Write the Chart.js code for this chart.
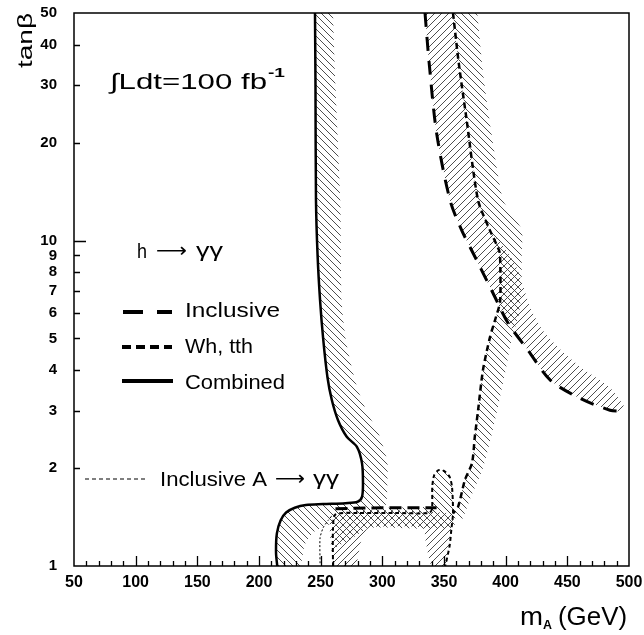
<!DOCTYPE html>
<html>
<head>
<meta charset="utf-8">
<script src="https://cdn.jsdelivr.net/npm/chart.js@4.4.0/dist/chart.umd.min.js"></script>
<style>
  body { margin: 0; background: #fff; }
</style>
</head>
<body>
<canvas id="myChart" width="644" height="635"></canvas>
<script>
// axis ticks
const xTicks = [50, 100, 150, 200, 250, 300, 350, 400, 450, 500];
const yTicks = [1, 2, 3, 4, 5, 6, 7, 8, 9, 10, 20, 30, 40, 50];

// Combined contour (solid) and outer edge of its hatched band
const combMA = [245.4, 245.8, 246.2, 247.5, 249.5, 252, 255.5, 259, 264, 271, 279.5, 283.5, 284.3, 283.5, 280, 270, 252, 238, 229, 222, 217.5, 214.5, 213.8, 214.8];
const combTB = [50, 30, 13.3, 9, 6.56, 5, 3.8, 3.24, 2.81, 2.5, 2.32, 2.07, 1.8, 1.63, 1.575, 1.56, 1.55, 1.54, 1.51, 1.46, 1.38, 1.26, 1.1, 1.0];
const combOutMA = [233, 237, 244, 256, 280, 296, 303, 304, 304, 297, 287, 279, 271, 267, 266, 262, 260];
const combOutTB = [1.0, 1.16, 1.27, 1.34, 1.37, 1.43, 1.55, 1.75, 2.1, 2.55, 3.0, 3.6, 4.8, 6.5, 13, 30, 50];

// Inclusive contour (long dashes)
const incMA = [334.6, 338, 344, 354.9, 364.3, 376.5, 389.7, 402, 418, 436, 460, 484.6, 492.7];
const incTB = [50, 35, 21.4, 13.3, 10.77, 8.7, 6.9, 5.57, 4.61, 3.73, 3.28, 3.01, 2.99];
const incOutMA = [497, 484, 462, 445, 430, 420, 414, 408, 398, 387, 377.6, 368, 362, 357.3];
const incOutTB = [3.05, 3.55, 4.05, 4.6, 5.3, 6.2, 7.3, 8.4, 9.6, 10.8, 13.3, 24, 35, 50];
const incLowMA = [262, 300, 344];
const incLowTB = [1.5, 1.51, 1.51];

// Wh, tth contour (short dashes)
const whMA = [357.3, 362, 368, 377.6, 387, 394.6, 395.5, 395.5, 392, 387.3, 381.6, 377.6, 375, 372.7, 367, 361.4, 357.3];
const whTB = [50, 35, 24, 13.3, 10.8, 9.34, 8.9, 6.5, 5.8, 5.05, 4.0, 3.0, 2.5, 2.07, 1.84, 1.52, 1.45];
const whOutMA = [364, 371, 381.6, 389, 395, 400, 405, 411, 413, 413, 413, 398, 388, 382, 377];
const whOutTB = [1.38, 1.6, 2.0, 2.56, 3.24, 4.0, 5.0, 6.0, 7.5, 9, 10.8, 13.3, 22, 32, 50];
const whLowMA = [260, 260, 262, 280, 310, 338, 340.3, 340.5, 342, 345.5, 350, 354.5, 356.5, 357.3, 356, 354.5, 351];
const whLowTB = [1.0, 1.3, 1.44, 1.455, 1.455, 1.455, 1.5, 1.75, 1.9, 1.97, 1.96, 1.88, 1.75, 1.45, 1.3, 1.15, 1.0];

// Inclusive A -> gamma gamma (thin dotted)
const aMA = [249.5, 249.5, 252, 256, 260];
const aTB = [1.02, 1.22, 1.31, 1.38, 1.44];

// hatched patches near the bottom
const uMA = [260, 260, 357.3, 355.5, 351.5, 340, 335, 333, 289, 283, 279];
const uTB = [1.0, 1.44, 1.45, 1.3, 1.0, 1.0, 1.2, 1.31, 1.31, 1.2, 1.0];
const bumpMA = [340.3, 340.5, 342, 345.5, 350, 354.5, 356.5, 357.3];
const bumpTB = [1.46, 1.75, 1.9, 1.97, 1.96, 1.88, 1.75, 1.45];
const lowMA = [262, 300, 357.3, 357.3, 290, 276, 262];
const lowTB = [1.5, 1.51, 1.5, 1.31, 1.31, 1.22, 1.14];

function pts(ma, tb) {
    return ma.map((m, i) => ({ x: m, y: tb[i] }));
}

const canvas = document.getElementById('myChart');
const mainCtx = canvas.getContext('2d');

function hatch(dir) {
    const n = 7;
    const c = document.createElement('canvas');
    c.width = n; c.height = n;
    const g = c.getContext('2d');
    g.strokeStyle = '#3a3a3a';
    g.lineWidth = 0.9;
    g.beginPath();
    if (dir > 0) {
        g.moveTo(0, n); g.lineTo(n, 0);
        g.moveTo(-1, 1); g.lineTo(1, -1);
        g.moveTo(n - 1, n + 1); g.lineTo(n + 1, n - 1);
    } else {
        g.moveTo(0, 0); g.lineTo(n, n);
        g.moveTo(-1, n - 1); g.lineTo(1, n + 1);
        g.moveTo(n - 1, -1); g.lineTo(n + 1, 1);
    }
    g.stroke();
    return mainCtx.createPattern(c, 'repeat');
}
const fwd = hatch(1);   // "/"
const back = hatch(-1); // "\"

function lineDs(ma, tb, dash, width, tension) {
    return {
        data: pts(ma, tb), showLine: true, borderColor: '#000', borderWidth: width,
        borderDash: dash, pointRadius: 0, fill: false, tension: tension
    };
}
function bandDs(ma, tb, pattern) {
    return {
        data: pts(ma, tb), showLine: true, borderWidth: 0, borderColor: 'rgba(0,0,0,0)',
        backgroundColor: pattern, pointRadius: 0, fill: 'shape', tension: 0.2
    };
}

const datasets = [
    lineDs(combMA, combTB, [], 2.5, 0.3),
    lineDs(incMA, incTB, [14, 10], 3, 0.3),
    lineDs(incLowMA, incLowTB, [12, 6], 3, 0),
    lineDs(whMA, whTB, [6, 4], 2.5, 0.25),
    lineDs(whLowMA, whLowTB, [4, 3], 2, 0.25),
    lineDs(aMA, aTB, [2, 2], 1, 0.2),
    bandDs(combMA.concat(combOutMA), combTB.concat(combOutTB), back),
    bandDs(whMA.concat(whOutMA), whTB.concat(whOutTB), back),
    bandDs(incMA.concat(incOutMA), incTB.concat(incOutTB), fwd),
    bandDs(uMA, uTB, fwd),
    bandDs(bumpMA, bumpTB, back),
    bandDs(lowMA, lowTB, back)
];

function fitText(ctx, str, x, y, w, font) {
    ctx.font = font;
    const m = ctx.measureText(str).width;
    ctx.save();
    ctx.translate(x, y);
    ctx.scale(w / m, 1);
    ctx.fillText(str, 0, 0);
    ctx.restore();
}

// frame, inward ticks and all the text inside the plot
const decorations = {
    id: 'decorations',
    afterDraw(chart) {
        const { ctx, chartArea: { left, top, right, bottom }, scales: { x, y } } = chart;
        ctx.save();
        ctx.strokeStyle = '#000';
        ctx.lineWidth = 1.5;
        ctx.strokeRect(left, top, right - left, bottom - top);

        ctx.lineWidth = 1.3;
        ctx.beginPath();
        for (let v = 60; v < 500; v += 10) {
            const px = Math.round(x.getPixelForValue(v)) + 0.5;
            const len = v % 50 === 0 ? 10 : 5;
            ctx.moveTo(px, bottom);
            ctx.lineTo(px, bottom - len);
        }
        yTicks.forEach(v => {
            if (v === 1 || v === 50) return;
            const py = Math.round(y.getPixelForValue(v)) + 0.5;
            ctx.moveTo(left, py);
            ctx.lineTo(left + (v === 10 ? 12 : 6), py);
        });
        ctx.stroke();

        ctx.fillStyle = '#000';
        ctx.textBaseline = 'alphabetic';
        ctx.textAlign = 'left';

        // luminosity
        fitText(ctx, '\u222BLdt=100 fb', 110, 89, 157, '22px "Liberation Sans"');
        fitText(ctx, '-1', 268, 77, 17, 'bold 13px "Liberation Sans"');

        // legend
        fitText(ctx, 'h', 137, 258, 10, '20px "Liberation Sans"');
        fitText(ctx, '\u27F6', 156, 257, 31, '20px "DejaVu Sans"');
        fitText(ctx, '\u03B3\u03B3', 196, 257, 27, '21px "Liberation Sans"');
        fitText(ctx, 'Inclusive', 185, 317, 95, '21px "Liberation Sans"');
        fitText(ctx, 'Wh, tth', 185, 353, 68, '21px "Liberation Sans"');
        fitText(ctx, 'Combined', 185, 389, 100, '21px "Liberation Sans"');
        fitText(ctx, 'Inclusive A', 160, 486, 107, '21px "Liberation Sans"');
        fitText(ctx, '\u27F6', 275, 485, 30, '20px "DejaVu Sans"');
        fitText(ctx, '\u03B3\u03B3', 313, 485, 26, '21px "Liberation Sans"');

        ctx.lineCap = 'butt';
        ctx.lineWidth = 4;
        ctx.setLineDash([20, 14]);
        ctx.beginPath(); ctx.moveTo(123, 312); ctx.lineTo(172, 312); ctx.stroke();
        ctx.setLineDash([9, 5]);
        ctx.beginPath(); ctx.moveTo(122, 347); ctx.lineTo(172, 347); ctx.stroke();
        ctx.setLineDash([]);
        ctx.beginPath(); ctx.moveTo(122, 381); ctx.lineTo(173, 381); ctx.stroke();
        ctx.lineWidth = 1.2;
        ctx.setLineDash([4, 3]);
        ctx.beginPath(); ctx.moveTo(85, 479); ctx.lineTo(146, 479); ctx.stroke();
        ctx.setLineDash([]);

        // axis titles
        fitText(ctx, 'm', 520, 625, 23, '25px "Liberation Sans"');
        fitText(ctx, 'A', 543, 629, 9, 'bold 12px "Liberation Sans"');
        fitText(ctx, '(GeV)', 558, 625, 69, '25px "Liberation Sans"');

        ctx.save();
        ctx.translate(32, 68);
        ctx.rotate(-Math.PI / 2);
        fitText(ctx, 'tan\u03B2', 0, 0, 55, '20px "Liberation Sans"');
        ctx.restore();

        ctx.restore();
    }
};

const xFont = { family: '"Liberation Sans"', size: 16, weight: 'bold' };
const yFont = { family: '"Liberation Sans"', size: 15, weight: 'bold' };

const myChart = new Chart(canvas, {
    type: 'scatter',
    data: { datasets: datasets },
    options: {
        responsive: false,
        animation: false,
        devicePixelRatio: 1,
        layout: { padding: { top: 13, right: 15, left: 0, bottom: 0 } },
        plugins: { legend: { display: false }, tooltip: { enabled: false } },
        scales: {
            x: {
                type: 'linear', min: 50, max: 500,
                afterBuildTicks: s => { s.ticks = xTicks.map(v => ({ value: v })); },
                afterFit: s => { s.height = 69; s.paddingLeft = 0; s.paddingRight = 0; },
                grid: { display: false, drawTicks: false },
                border: { display: false },
                ticks: { font: xFont, color: '#000', padding: 7, maxRotation: 0, autoSkip: false }
            },
            y: {
                type: 'logarithmic', min: 1, max: 50,
                afterBuildTicks: s => { s.ticks = yTicks.map(v => ({ value: v })); },
                afterFit: s => { s.width = 74; s.paddingTop = 0; s.paddingBottom = 0; },
                grid: { display: false, drawTicks: false },
                border: { display: false },
                ticks: { font: yFont, color: '#000', padding: 17, autoSkip: false, callback: v => String(v) }
            }
        }
    },
    plugins: [decorations]
});
</script>
</body>
</html>
